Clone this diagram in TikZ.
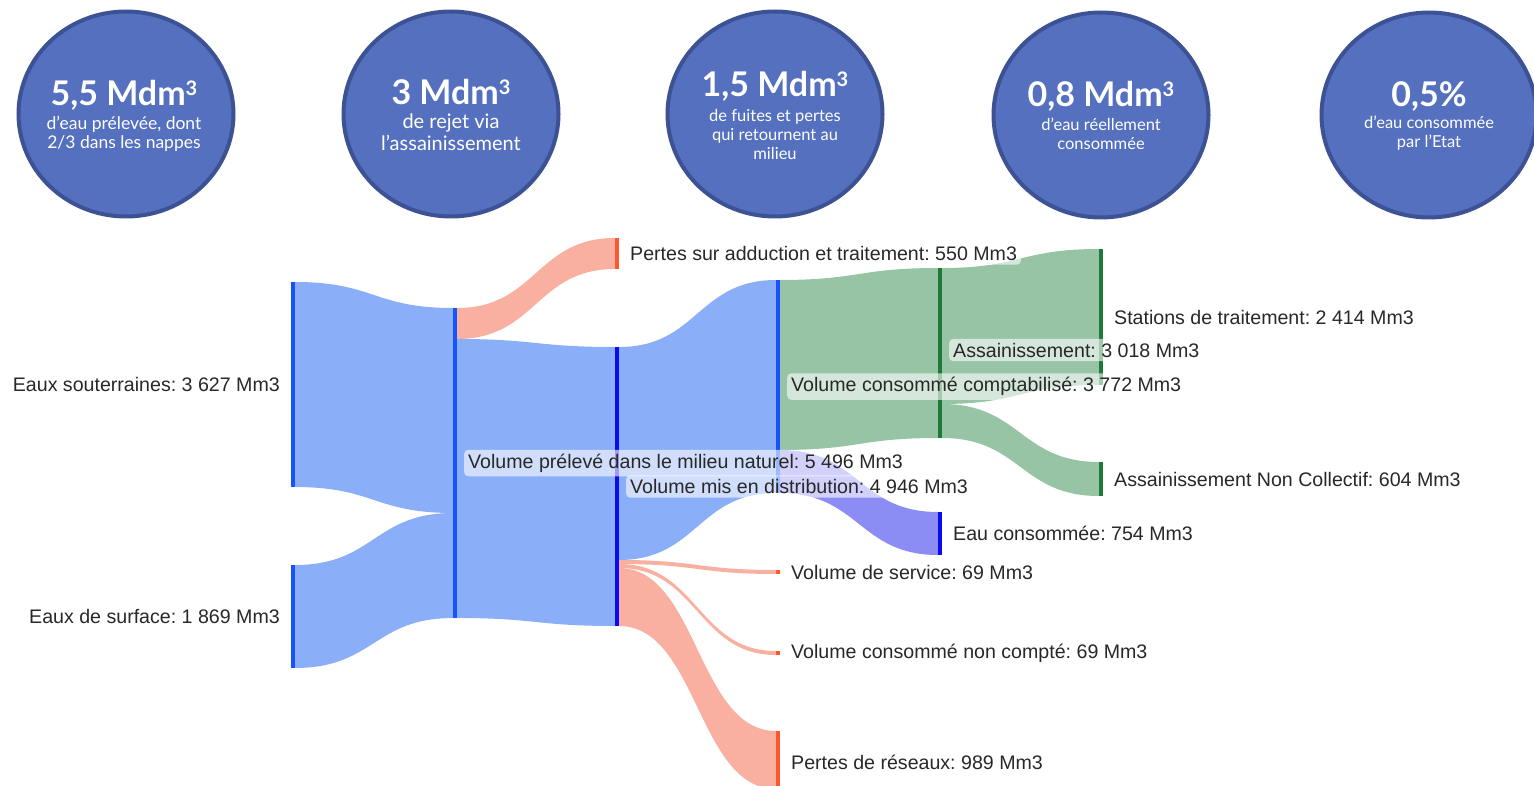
\documentclass[tikz,border=0pt]{standalone}
\usepackage{fontspec}
\setmainfont{Liberation Sans}
\newfontfamily\circfont{Lato}
\usetikzlibrary{calc,shapes.geometric}
\definecolor{circfill}{RGB}{84,112,190}
\definecolor{circdraw}{RGB}{60,82,148}
\definecolor{linkblue}{RGB}{139,174,249}
\definecolor{barblue}{RGB}{22,82,255}
\definecolor{bardeep}{RGB}{10,10,238}
\definecolor{linkred}{RGB}{249,176,160}
\definecolor{barred}{RGB}{255,88,48}
\definecolor{linkgreen}{RGB}{151,196,165}
\definecolor{bargreen}{RGB}{30,122,56}
\definecolor{linkpurple}{RGB}{140,140,245}
\definecolor{lbltext}{RGB}{40,40,40}
\frenchspacing
\newcommand\cubesup{\raisebox{0.3em}{\fontsize{20}{20}\selectfont 3}}

\newcommand\sflow[7]{%
  \fill[#7] let \p1=(#1.north east), \p2=(#4.north west) in
    (\x1,\y1-#2pt) .. controls (\x1/2+\x2/2,\y1-#2pt) and (\x1/2+\x2/2,\y2-#5pt) .. (\x2,\y2-#5pt)
    -- (\x2,\y2-#6pt) .. controls (\x1/2+\x2/2,\y2-#6pt) and (\x1/2+\x2/2,\y1-#3pt) .. (\x1,\y1-#3pt) -- cycle;}

\begin{document}
\begin{tikzpicture}[x=1pt,y=-1pt,
  circ/.style={ellipse, fill=circfill, draw=circdraw, line width=4pt, minimum width=215pt, minimum height=205pt, inner sep=0pt},
  bigtxt/.style={text=white, inner sep=0pt, font=\circfont\bfseries\fontsize{34}{36}\selectfont},
  smalltxt/.style={text=white, inner sep=0pt, align=center, font=\circfont\fontsize{17.5}{19}\selectfont},
  sbar/.style={rectangle, anchor=north, fill=#1, minimum width=4pt, inner sep=0pt, outer sep=0pt, draw=none},
  lbl/.style={font=\fontsize{19.6}{22}\selectfont, text=lbltext, fill=white, fill opacity=0.6, text opacity=1,
              rounded corners=4pt, inner xsep=4pt, inner ysep=4pt}]
\useasboundingbox (0,0) rectangle (1534,786);
\begin{scope}
\clip (0,0) rectangle (1534,786);

% ---- circles ----
\node[circ] (c1) at (126,114) {};
\node[circ] (c2) at (451,114) {};
\node[circ] (c3) at (775,114) {};
\node[circ] (c4) at (1101,115) {};
\node[circ] (c5) at (1429,115) {};

\node[bigtxt] (c1a) at (124,95) {5,5 Mdm\cubesup};
\node[smalltxt] (c1b) at (124,133.5) {d’eau prélevée, dont\\2/3 dans les nappes};
\node[bigtxt] (c2a) at (451,92) {3 Mdm\cubesup};
\node[smalltxt, font=\circfont\fontsize{20}{22}\selectfont] (c2b) at (451,132) {de rejet via\\l’assainissement};
\node[bigtxt] (c3a) at (775,86) {1,5 Mdm\cubesup};
\node[smalltxt, font=\circfont\fontsize{16.5}{19}\selectfont] (c3b) at (775,134) {de fuites et pertes\\qui retournent au\\milieu};
\node[bigtxt] (c4a) at (1101,96) {0,8 Mdm\cubesup};
\node[smalltxt, font=\circfont\fontsize{16.5}{19}\selectfont] (c4b) at (1101,133.5) {d’eau réellement\\consommée};
\node[bigtxt] (c5a) at (1429,96) {0,5\%};
\node[smalltxt, font=\circfont\fontsize{16.5}{19}\selectfont] (c5b) at (1429,133.5) {d’eau consommée\\par l’Etat};

% ---- sankey bars (nodes) ----
\node[sbar=barblue, minimum height=205pt] (es) at (293,282) {};
\node[sbar=barblue, minimum height=103pt] (esu) at (293,565) {};
\node[sbar=barblue, minimum height=310pt] (vp) at (455,308) {};
\node[sbar=barred, minimum height=31pt] (pa) at (617,238) {};
\node[sbar=bardeep, minimum height=279pt] (vmd) at (617,347) {};
\node[sbar=barblue, minimum height=213pt] (vcc) at (778,280) {};
\node[sbar=barred, minimum height=4pt] (vs) at (778,570) {};
\node[sbar=barred, minimum height=4pt] (vcnc) at (778,651) {};
\node[sbar=barred, minimum height=58pt] (pr) at (778,731) {};
\node[sbar=bargreen, minimum height=170pt] (ass) at (940,268) {};
\node[sbar=bardeep, minimum height=43pt] (ec) at (940,512) {};
\node[sbar=bargreen, minimum height=136pt] (st) at (1101,249) {};
\node[sbar=bargreen, minimum height=34pt] (anc) at (1101,462) {};

% ---- flows ----
\sflow{es}{0}{205}{vp}{0}{205}{linkblue}
\sflow{esu}{0}{103}{vp}{205}{310}{linkblue}
\sflow{vp}{0}{31}{pa}{0}{31}{linkred}
\sflow{vp}{31}{310}{vmd}{0}{279}{linkblue}
\sflow{vmd}{0}{213}{vcc}{0}{213}{linkblue}
\sflow{vmd}{213}{217}{vs}{0}{4}{linkred}
\sflow{vmd}{217}{221}{vcnc}{0}{4}{linkred}
\sflow{vmd}{221}{279}{pr}{0}{58}{linkred}
\sflow{vcc}{0}{170}{ass}{0}{170}{linkgreen}
\sflow{vcc}{170}{213}{ec}{0}{43}{linkpurple}
\sflow{ass}{0}{136}{st}{0}{136}{linkgreen}
\sflow{ass}{136}{170}{anc}{0}{34}{linkgreen}

% redraw bars on top of flows
\foreach \n/\c in {es/barblue, esu/barblue, vp/barblue, pa/barred, vmd/bardeep, vcc/barblue, vs/barred,
                   vcnc/barred, pr/barred, ass/bargreen, ec/bardeep, st/bargreen, anc/bargreen}
  \fill[\c] (\n.north west) rectangle (\n.south east);

% ---- labels ----
\node[lbl, anchor=east] (les) at ([xshift=-7pt]es.west) {Eaux souterraines: 3 627 Mm3};
\node[lbl, anchor=east] (lesu) at ([xshift=-7pt]esu.west) {Eaux de surface: 1 869 Mm3};
\node[lbl, anchor=west] (lvp) at ([xshift=7pt]vp.east) {Volume prélevé dans le milieu naturel: 5 496 Mm3};
\node[lbl, anchor=west] (lpa) at ([xshift=7pt]pa.east) {Pertes sur adduction et traitement: 550 Mm3};
\node[lbl, anchor=west] (lvmd) at ([xshift=7pt]vmd.east) {Volume mis en distribution: 4 946 Mm3};
\node[lbl, anchor=west] (lvcc) at ([xshift=7pt]vcc.east) {Volume consommé comptabilisé: 3 772 Mm3};
\node[lbl, anchor=west] (lvs) at ([xshift=7pt]vs.east) {Volume de service: 69 Mm3};
\node[lbl, anchor=west] (lvcnc) at ([xshift=7pt]vcnc.east) {Volume consommé non compté: 69 Mm3};
\node[lbl, anchor=west] (lpr) at ([xshift=7pt,yshift=-2pt]pr.east) {Pertes de réseaux: 989 Mm3};
\node[lbl, anchor=west] (lass) at ([xshift=7pt,yshift=3pt]ass.east) {Assainissement: 3 018 Mm3};
\node[lbl, anchor=west] (lec) at ([xshift=7pt]ec.east) {Eau consommée: 754 Mm3};
\node[lbl, anchor=west] (lst) at ([xshift=7pt]st.east) {Stations de traitement: 2 414 Mm3};
\node[lbl, anchor=west] (lanc) at ([xshift=7pt]anc.east) {Assainissement Non Collectif: 604 Mm3};
\end{scope}
\end{tikzpicture}
\end{document}
